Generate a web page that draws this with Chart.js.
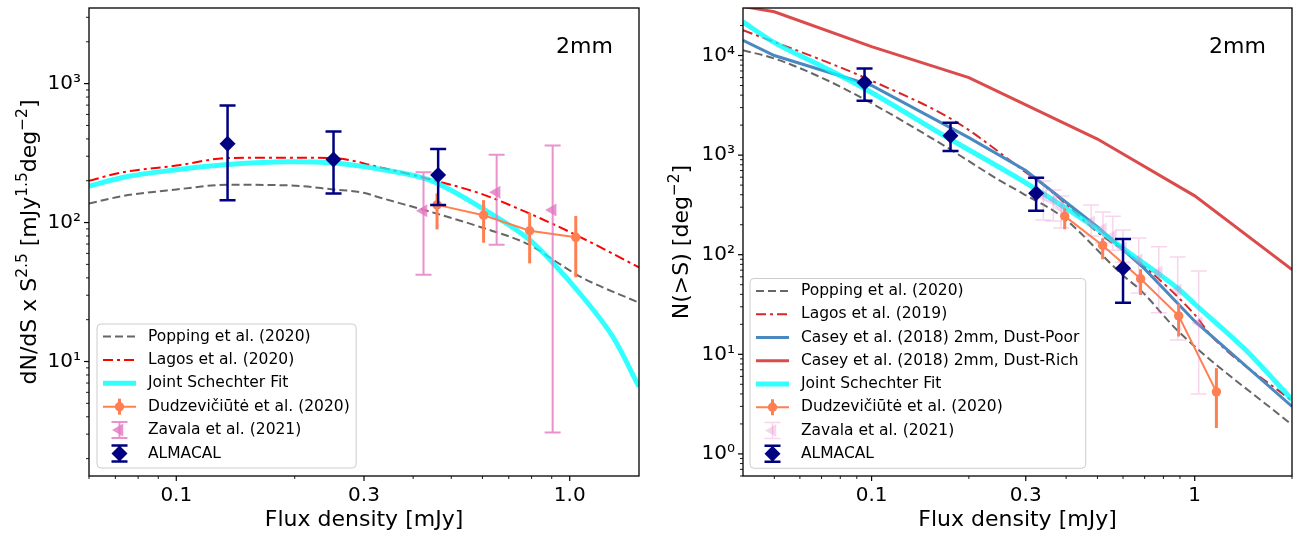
<!DOCTYPE html>
<html>
<head>
<meta charset="utf-8">
<script src="https://cdn.jsdelivr.net/npm/chart.js@4.4.1/dist/chart.umd.min.js"></script>
<style>
  html, body { margin: 0; padding: 0; background: #fff; }
  #wrap { position: relative; width: 1296px; height: 534px; }
  canvas { position: absolute; top: 0; }
  #left { left: 0; }
  #right { left: 648px; }
</style>
</head>
<body>
<div id="wrap">
  <canvas id="left" width="648" height="534" style="width:648px;height:534px"></canvas>
  <canvas id="right" width="648" height="534" style="width:648px;height:534px"></canvas>
</div>
<script>
// ---------- left panel: dN/dS x S^2.5 ----------
const popLx = [0.06, 0.073, 0.1, 0.135, 0.194, 0.251, 0.299, 0.33, 0.44, 0.592, 0.791, 0.908, 1.06, 1.5];
const popLy = [137, 155, 173, 187, 185, 173, 164, 151, 120, 93, 69, 54, 41, 26.5];
const lagLx = [0.06, 0.073, 0.1, 0.135, 0.194, 0.251, 0.33, 0.44, 0.592, 0.791, 1.06, 1.5];
const lagLy = [200, 230, 257, 291, 293, 291, 249, 205, 162, 116, 79, 47.6];
const fitLx = [0.06, 0.073, 0.1, 0.135, 0.194, 0.251, 0.33, 0.441, 0.592, 0.791, 0.908, 1.06, 1.288, 1.5];
const fitLy = [183, 211, 240, 262, 274, 268, 242, 202, 129, 75, 51, 31, 15, 6.6];
const dudLx = [0.460, 0.604, 0.791, 1.036];
const dudLy = [134, 113, 87.3, 78.3];
const dudLlo = [89.3, 71.6, 50.8, 40.4];
const dudLhi = [162, 145, 117.6, 111.4];
const zavLx = [0.425, 0.652, 0.905];
const zavLy = [121.6, 165, 123];
const zavLlo = [42.1, 69.2, 3.08];
const zavLhi = [229.7, 307.7, 359];
const almLx = [0.135, 0.251, 0.463];
const almLy = [369, 284, 220];
const almLlo = [145, 162, 134];
const almLhi = [696, 452, 338];

// ---------- right panel: N(>S) ----------
const popRx = [0.04, 0.05, 0.071, 0.096, 0.17, 0.248, 0.293, 0.389, 0.6, 0.68, 0.89, 2.0];
const popRy = [11300, 9330, 5870, 3565, 1211, 561, 413, 240, 62, 44, 17, 1.95];
const lagRx = [0.04, 0.0708, 0.095, 0.1825, 0.308, 0.346, 0.5, 0.671, 1.0, 1.13, 2.0];
const lagRy = [17950, 8900, 6010, 2158, 631, 481, 169, 85, 25, 15.1, 3.4];
const poorRx = [0.04, 0.05, 0.1, 0.2, 0.3, 0.5, 0.7, 1.0, 2.0];
const poorRy = [14200, 10000, 5000, 1500, 700, 190, 72, 21.5, 3.0];
const richRx = [0.04, 0.05, 0.1, 0.2, 0.5, 1.0, 2.0];
const richRy = [31000, 27500, 12300, 6000, 1450, 390, 71];
const fitRx = [0.04, 0.0496, 0.0708, 0.095, 0.17, 0.308, 0.5, 0.611, 0.893, 1.0, 1.436, 2.0];
const fitRy = [21730, 13690, 7690, 4667, 1528, 500, 180, 111, 45, 32, 11.1, 3.5];
const dudRx = [0.396, 0.519, 0.680, 0.892, 1.167];
const dudRy = [244, 124, 57.4, 24.3, 4.2];
const dudRlo = [180, 90, 39.4, 15.1, 1.82];
const dudRhi = [292, 146, 71.5, 32.1, 7.26];
const zavRx = [0.340, 0.365, 0.386, 0.478, 0.520, 0.558, 0.600, 0.671, 0.774, 0.886, 1.029];
const zavRy = [388, 346, 294, 213, 181, 154, 117, 88.5, 67, 44.3, 20.7];
const zavRlo = [223, 218, 185, 154, 131, 111, 84, 41.3, 26.1, 13.9, 4.0];
const zavRhi = [549, 446, 388, 316, 268, 244, 177, 147, 120, 94.8, 68.6];
const almRx = [0.0951, 0.1755, 0.323, 0.600];
const almRy = [5358, 1563, 413, 73.1];
const almRlo = [3509, 1097, 277, 33];
const almRhi = [7410, 2109, 592, 143.6];

// ---------- ticks ----------
const xMajL = [0.1, 0.3, 1.0], xMajLabL = ['0.1', '0.3', '1.0'];
const xMinL = [0.06, 0.07, 0.08, 0.09, 0.2, 0.4, 0.5, 0.6, 0.7, 0.8, 0.9];
const yMajL = [10, 100, 1000], yMajLabL = ['10¹', '10²', '10³'];
const yMinL = [2, 3, 4, 5, 6, 7, 8, 9, 20, 30, 40, 50, 60, 70, 80, 90, 200, 300, 400, 500, 600, 700, 800, 900, 2000, 3000];
const xMajR = [0.1, 0.3, 1], xMajLabR = ['0.1', '0.3', '1'];
const xMinR = [0.05, 0.06, 0.07, 0.08, 0.09, 0.2, 0.4, 0.5, 0.6, 0.7, 0.8, 0.9, 2];
const yMajR = [1, 10, 100, 1000, 10000], yMajLabR = ['10⁰', '10¹', '10²', '10³', '10⁴'];
const yMinR = [0.6, 0.7, 0.8, 0.9, 2, 3, 4, 5, 6, 7, 8, 9, 20, 30, 40, 50, 60, 70, 80, 90,
  200, 300, 400, 500, 600, 700, 800, 900, 2000, 3000, 4000, 5000, 6000, 7000, 8000, 9000, 20000];

const yTitleL = [['dN/dS x S', 0], ['2.5', 1], [' [mJy', 0], ['1.5', 1], ['deg', 0], ['−2', 1], [']', 0]];
const yTitleR = [['N(>S) [deg', 0], ['−2', 1], [']', 0]];

Chart.defaults.font.family = '"DejaVu Sans", sans-serif';
Chart.defaults.color = '#000';

function pts(xs, ys) {
  return xs.map(function (x, i) { return { x: x, y: ys[i] }; });
}

function lineSet(label, xs, ys, color, width, dash, smooth) {
  return {
    label: label, data: pts(xs, ys), showLine: true,
    borderColor: color, backgroundColor: color, borderWidth: width, borderDash: dash || [],
    pointRadius: 0, pointHoverRadius: 0,
    cubicInterpolationMode: smooth ? 'monotone' : 'default', tension: 0,
    legendKind: 'line'
  };
}

function dudSet(xs, ys, lo, hi) {
  return {
    label: 'Dudzevičiūtė et al. (2020)', data: pts(xs, ys), showLine: true,
    borderColor: 'coral', backgroundColor: 'coral', borderWidth: 2,
    pointStyle: 'circle', pointRadius: 4.7, pointBackgroundColor: 'coral', pointBorderColor: 'coral', pointBorderWidth: 0,
    errLo: lo, errHi: hi, errColor: 'coral', errWidth: 3, capSize: 0,
    legendKind: 'errline'
  };
}

function zavSet(xs, ys, lo, hi, alpha, ew) {
  const c = 'rgba(227,119,194,' + alpha + ')';
  return {
    label: 'Zavala et al. (2021)', data: pts(xs, ys), showLine: false,
    pointStyle: 'triangle', pointRotation: -90, pointRadius: 7.5,
    pointBackgroundColor: c, pointBorderColor: c, pointBorderWidth: 0,
    errLo: lo, errHi: hi, errColor: c, errWidth: ew, capSize: 8,
    legendKind: 'err'
  };
}

function almSet(xs, ys, lo, hi) {
  return {
    label: 'ALMACAL', data: pts(xs, ys), showLine: false,
    pointStyle: 'rectRot', pointRadius: 8,
    pointBackgroundColor: '#000080', pointBorderColor: '#000080', pointBorderWidth: 0,
    errLo: lo, errHi: hi, errColor: '#000080', errWidth: 2.5, capSize: 8,
    legendKind: 'err'
  };
}

function drawErr(ctx, x, yTop, yBot, ds) {
  ctx.strokeStyle = ds.errColor;
  ctx.lineWidth = ds.errWidth;
  ctx.setLineDash([]);
  ctx.beginPath();
  ctx.moveTo(x, yTop); ctx.lineTo(x, yBot);
  if (ds.capSize) {
    ctx.moveTo(x - ds.capSize, yTop); ctx.lineTo(x + ds.capSize, yTop);
    ctx.moveTo(x - ds.capSize, yBot); ctx.lineTo(x + ds.capSize, yBot);
  }
  ctx.stroke();
}

function drawMark(ctx, ds, x, y) {
  ctx.fillStyle = ds.pointBackgroundColor;
  Chart.helpers.drawPoint(ctx, { pointStyle: ds.pointStyle, rotation: ds.pointRotation || 0, radius: ds.pointRadius, borderWidth: 0 }, x, y);
}

// error bars go under each dataset's markers
const errorBars = {
  id: 'errorBars',
  beforeDatasetDraw: function (chart, args) {
    const ds = chart.data.datasets[args.index];
    if (!ds.errLo) return;
    const ctx = chart.ctx, a = chart.chartArea, xs = chart.scales.x, ys = chart.scales.y;
    ctx.save();
    ctx.beginPath(); ctx.rect(a.left, a.top, a.width, a.height); ctx.clip();
    ds.data.forEach(function (p, i) {
      drawErr(ctx, xs.getPixelForValue(p.x), ys.getPixelForValue(ds.errHi[i]), ys.getPixelForValue(ds.errLo[i]), ds);
    });
    ctx.restore();
  }
};

function drawHandle(ctx, ds, hx, hy) {
  const cx = hx + 16.5;
  ctx.save();
  if (ds.legendKind === 'line' || ds.legendKind === 'errline') {
    ctx.strokeStyle = ds.borderColor;
    ctx.lineWidth = ds.borderWidth;
    ctx.setLineDash(ds.borderDash || []);
    ctx.beginPath(); ctx.moveTo(hx, hy); ctx.lineTo(hx + 33, hy); ctx.stroke();
    ctx.setLineDash([]);
  }
  if (ds.errLo) drawErr(ctx, cx, hy - 8, hy + 8, ds);
  if (ds.legendKind !== 'line') drawMark(ctx, ds, cx, hy);
  ctx.restore();
}

const boxLegend = {
  id: 'boxLegend',
  afterDatasetsDraw: function (chart, args, o) {
    const ctx = chart.ctx, sets = chart.data.datasets;
    ctx.save();
    ctx.font = '15.5px "DejaVu Sans"';
    let tw = 0;
    sets.forEach(function (ds) { tw = Math.max(tw, ctx.measureText(ds.label).width); });
    const top = o.rowY0 - 12.5;
    const bottom = o.rowY0 + (sets.length - 1) * o.rowH + 14.5;
    ctx.beginPath();
    ctx.roundRect(o.left, top, 51 + tw + 6.5, bottom - top, 4);
    ctx.fillStyle = 'rgba(255,255,255,0.8)';
    ctx.fill();
    ctx.strokeStyle = '#cccccc';
    ctx.lineWidth = 1;
    ctx.stroke();
    sets.forEach(function (ds, i) {
      const y = o.rowY0 + i * o.rowH;
      drawHandle(ctx, ds, o.left + 6, y);
      ctx.fillStyle = '#000';
      ctx.textAlign = 'left';
      ctx.textBaseline = 'middle';
      ctx.font = '15.5px "DejaVu Sans"';
      ctx.fillText(ds.label, o.left + 51, y);
    });
    ctx.restore();
  }
};

const panelText = {
  id: 'panelText',
  afterDraw: function (chart, args, o) {
    const ctx = chart.ctx, a = chart.chartArea, size = 22;
    // y title with superscripts
    ctx.save();
    let total = 0;
    o.yTitle.forEach(function (p) {
      ctx.font = (p[1] ? size * 0.7 : size) + 'px "DejaVu Sans"';
      total += ctx.measureText(p[0]).width;
    });
    ctx.translate(o.yTitleX, (a.top + a.bottom) / 2);
    ctx.rotate(-Math.PI / 2);
    ctx.fillStyle = '#000';
    ctx.textAlign = 'left';
    ctx.textBaseline = 'alphabetic';
    let x = -total / 2;
    o.yTitle.forEach(function (p) {
      ctx.font = (p[1] ? size * 0.7 : size) + 'px "DejaVu Sans"';
      ctx.fillText(p[0], x, p[1] ? -size * 0.42 : 0);
      x += ctx.measureText(p[0]).width;
    });
    ctx.restore();

    // band label
    ctx.save();
    ctx.font = '22px "DejaVu Sans"';
    ctx.fillStyle = '#000';
    ctx.textBaseline = 'middle';
    ctx.fillText('2mm', a.left + 0.849 * a.width, a.top + 0.083 * a.height);
    ctx.restore();

    // frame and outward ticks
    ctx.save();
    ctx.strokeStyle = '#000';
    ['x', 'y'].forEach(function (id) {
      const s = chart.scales[id];
      s.ticks.forEach(function (t) {
        const p = s.getPixelForValue(t.value);
        const len = t.major ? 5 : 3;
        ctx.lineWidth = t.major ? 1.2 : 0.9;
        ctx.beginPath();
        if (id === 'x') {
          if (p < a.left - 0.5 || p > a.right + 0.5) return;
          ctx.moveTo(p, a.bottom); ctx.lineTo(p, a.bottom + len);
        } else {
          if (p < a.top - 0.5 || p > a.bottom + 0.5) return;
          ctx.moveTo(a.left, p); ctx.lineTo(a.left - len, p);
        }
        ctx.stroke();
      });
    });
    ctx.lineWidth = 1.3;
    ctx.strokeRect(a.left, a.top, a.width, a.height);
    ctx.restore();
  }
};

function logAxis(min, max, majors, labels, minors, fit) {
  return {
    type: 'logarithmic', min: min, max: max,
    grid: { display: false, drawTicks: false },
    border: { display: false },
    afterBuildTicks: function (scale) {
      scale.ticks = majors.map(function (v) { return { value: v, major: true }; })
        .concat(minors.map(function (v) { return { value: v, major: false }; }))
        .sort(function (p, q) { return p.value - q.value; });
    },
    afterFit: function (s) {
      fit(s);
      // no automatic padding for overhanging labels
      s.paddingTop = 0; s.paddingBottom = 0; s.paddingLeft = 0; s.paddingRight = 0;
    },
    ticks: {
      autoSkip: false, maxRotation: 0, minRotation: 0, padding: 8,
      font: { size: 20 }, color: '#000',
      callback: function (v) {
        const i = majors.indexOf(v);
        return i >= 0 ? labels[i] : '';
      }
    }
  };
}

function makeChart(id, sets, xr, yr, yw, padRight, legendOpts, yTitle, yTitleX) {
  sets.forEach(function (ds, i) { ds.order = sets.length - i; });
  return new Chart(document.getElementById(id), {
    type: 'scatter',
    data: { datasets: sets },
    options: {
      responsive: false, animation: false, events: [],
      layout: { padding: { top: 8, right: padRight, left: 0, bottom: 0 }, autoPadding: false },
      scales: {
        x: Object.assign(logAxis(xr[0], xr[1], xr[2], xr[3], xr[4], function (s) { s.height = 58; }), {
          title: { display: true, text: 'Flux density [mJy]', font: { size: 22 }, color: '#000', padding: { top: 0, bottom: 1 } }
        }),
        y: logAxis(yr[0], yr[1], yr[2], yr[3], yr[4], function (s) { s.width = yw; })
      },
      plugins: {
        legend: { display: false },
        tooltip: { enabled: false },
        boxLegend: legendOpts,
        panelText: { yTitle: yTitle, yTitleX: yTitleX }
      }
    },
    plugins: [errorBars, boxLegend, panelText]
  });
}

makeChart('left', [
  lineSet('Popping et al. (2020)', popLx, popLy, 'rgba(85,85,85,0.9)', 2, [8, 4], true),
  lineSet('Lagos et al. (2020)', lagLx, lagLy, '#ff0000', 2, [10, 4, 3, 4], true),
  lineSet('Joint Schechter Fit', fitLx, fitLy, 'rgba(0,255,255,0.8)', 5, [], true),
  dudSet(dudLx, dudLy, dudLlo, dudLhi),
  zavSet(zavLx, zavLy, zavLlo, zavLhi, 0.8, 2),
  almSet(almLx, almLy, almLlo, almLhi)
], [0.06, 1.5, xMajL, xMajLabL, xMinL], [1.5, 3500, yMajL, yMajLabL, yMinL], 89, 9,
  { left: 97, rowY0: 336.5, rowH: 23.4 }, yTitleL, 36);

makeChart('right', [
  lineSet('Popping et al. (2020)', popRx, popRy, 'rgba(85,85,85,0.9)', 2, [8, 4], true),
  lineSet('Lagos et al. (2019)', lagRx, lagRy, '#d62728', 2, [10, 4, 3, 4], true),
  lineSet('Casey et al. (2018) 2mm, Dust-Poor', poorRx, poorRy, '#4a89c0', 3, [], false),
  lineSet('Casey et al. (2018) 2mm, Dust-Rich', richRx, richRy, '#dc4b4b', 3, [], false),
  lineSet('Joint Schechter Fit', fitRx, fitRy, 'rgba(0,255,255,0.8)', 5, [], true),
  dudSet(dudRx, dudRy, dudRlo, dudRhi),
  zavSet(zavRx, zavRy, zavRlo, zavRhi, 0.3, 1.5),
  almSet(almRx, almRy, almRlo, almRhi)
], [0.04, 2.0, xMajR, xMajLabR, xMinR], [0.6, 30000, yMajR, yMajLabR, yMinR], 95, 4,
  { left: 102, rowY0: 291, rowH: 23.25 }, yTitleR, 40);
</script>
</body>
</html>
